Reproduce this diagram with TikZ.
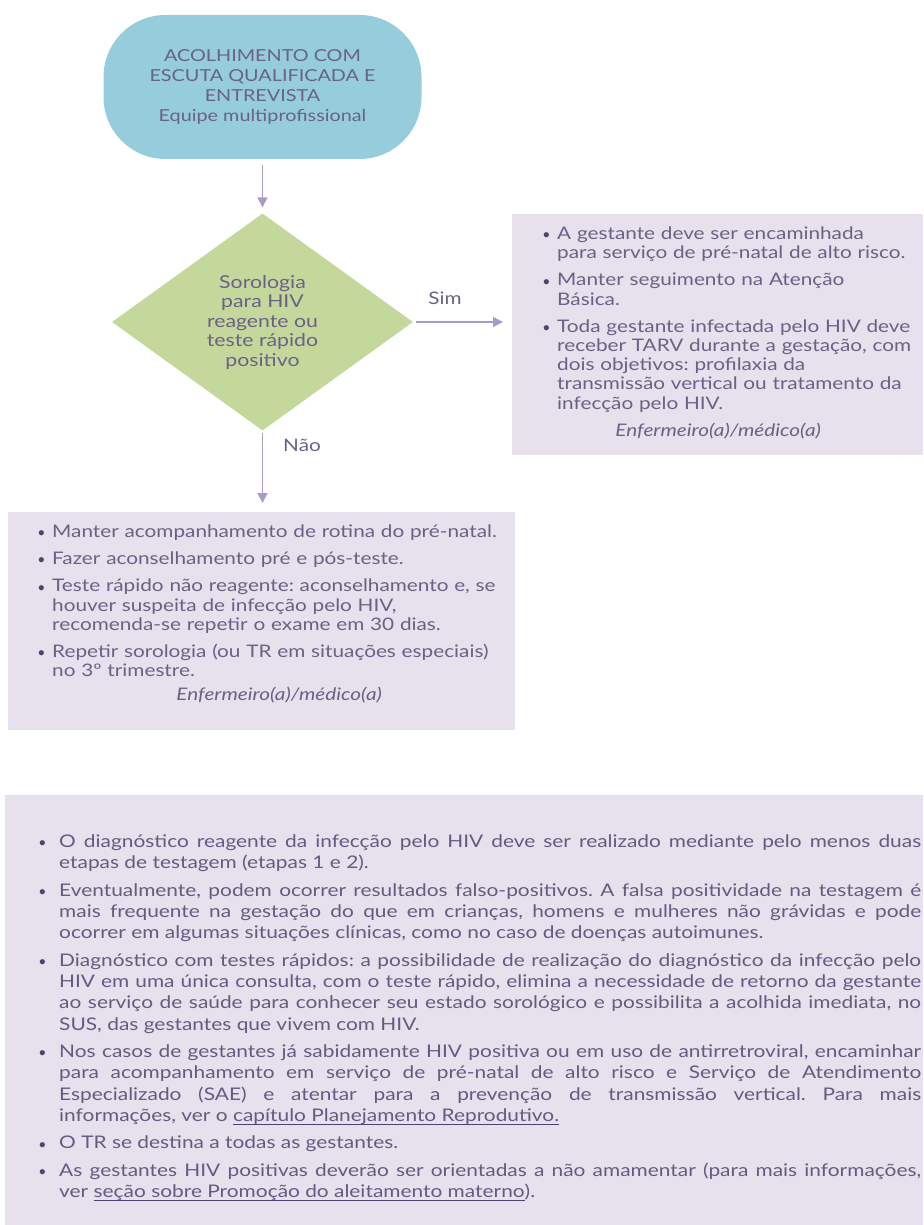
\documentclass[tikz,border=0pt]{standalone}
\usepackage{fontspec}
\setmainfont{Lato}[FakeStretch=1.2]
\newfontfamily\bulfont{Liberation Sans}
\usetikzlibrary{shapes.geometric,arrows.meta}
\definecolor{txt}{HTML}{6B6187}
\definecolor{btxt}{HTML}{655A82}
\definecolor{bulc}{HTML}{4E4270}
\definecolor{bluefill}{HTML}{95CDDC}
\definecolor{greenfill}{HTML}{C5D89C}
\definecolor{panelfill}{HTML}{E6E1EC}
\definecolor{arrowc}{HTML}{A99AC8}
\newcommand\bul[1]{\par\hangindent=#1\relax\hangafter=1\relax\noindent\makebox[#1][l]{\raisebox{-2.2pt}{\textcolor{bulc}{\bulfont\fontsize{19}{19}\selectfont\textbullet}}}}
\newcommand\ulink[1]{\setbox0\hbox{#1}\rlap{\textcolor{bulc}{\rule[-3.5pt]{\wd0}{1.1pt}}}\box0}
\newcommand\listsetup{\setlength{\parskip}{8pt}\setlength{\parindent}{0pt}\hyphenpenalty=10000\relax\tolerance=10000\relax\frenchspacing}
\newcommand\bsetup{\setlength{\parskip}{6.2pt}\setlength{\parindent}{0pt}\hyphenpenalty=10000\relax\tolerance=10000\relax\emergencystretch=20pt\relax\frenchspacing}
\begin{document}
\begin{tikzpicture}[x=1pt,y=-1pt,
  startbox/.style={rectangle, rounded corners=62pt, minimum width=318pt, minimum height=144pt, fill=bluefill, text=txt, align=center, inner sep=0pt, font=\fontsize{16.5}{20}\selectfont},
  decision/.style={diamond, aspect=1.39, minimum width=301pt, minimum height=217pt, fill=greenfill, text=txt, align=center, inner sep=0pt, font=\fontsize{17.7}{19.5}\selectfont},
  panel/.style={rectangle, fill=panelfill, inner sep=0pt, anchor=north west},
  listtext/.style={anchor=north west, inner sep=0pt, text=txt, font=\fontsize{17.3}{19.2}\selectfont},
  btext/.style={anchor=north west, inner sep=0pt, text=btxt, align=justify, font=\fontsize{17.4}{21.3}\selectfont},
  arr/.style={draw=arrowc, line width=1.5pt, -{Triangle[width=10pt,length=10pt]}},
  lbl/.style={text=txt, inner sep=0pt, font=\fontsize{17.25}{19.5}\selectfont}
]
\useasboundingbox (0,0) rectangle (923,1225);

\node[startbox] (start) at (262.5,87) {ACOLHIMENTO COM\\ESCUTA QUALIFICADA E\\ENTREVISTA\\Equipe multiprofissional};

\node[decision] (dec) at (262.5,322) {Sorologia\\para HIV\\reagente ou\\teste rápido\\positivo};

\node[panel, minimum width=411pt, minimum height=241pt] (rbox) at (512,214) {};
\node[panel, minimum width=507pt, minimum height=218pt] (lbox) at (8,512) {};
\node[panel, minimum width=918pt, minimum height=430pt] (bbox) at (5,795) {};

\draw[arr, shorten <=6pt, shorten >=6pt] (start.south) -- (dec.north);
\draw[arr, shorten <=3pt, shorten >=9pt] (dec.east) -- (dec.east -| rbox.west);
\draw[arr, shorten <=2pt, shorten >=9pt] (dec.south) -- (dec.south |- lbox.north);

\node[lbl] (sim) at (445,298) {Sim};
\node[lbl] (nao) at (302,445) {Não};

\node[listtext, text width=375pt] (rtext) at (543,212) {\listsetup
\bul{14pt}A gestante deve ser encaminhada\newline para serviço de pré-natal de alto risco.
\bul{14pt}Manter seguimento na Atenção\newline Básica.
\bul{14pt}Toda gestante infectada pelo HIV deve\newline receber TARV durante a gestação, com\newline dois objetivos: profilaxia da\newline transmissão vertical ou tratamento da\newline infecção pelo HIV.
\par\noindent\makebox[350pt][c]{\itshape Enfermeiro(a)/médico(a)}\par};

\node[listtext, text width=470pt] (ltext) at (38,510) {\listsetup
\bul{14pt}Manter acompanhamento de rotina do pré-natal.
\bul{14pt}Fazer aconselhamento pré e pós-teste.
\bul{14pt}Teste rápido não reagente: aconselhamento e, se\newline houver suspeita de infecção pelo HIV,\newline recomenda-se repetir o exame em 30 dias.
\bul{14pt}Repetir sorologia (ou TR em situações especiais)\newline no 3º trimestre.
\par\vspace{-3pt}\noindent\makebox[482pt][c]{\itshape Enfermeiro(a)/médico(a)}\par};

\node[btext, text width=882pt] (btxt) at (39,819.5) {\bsetup
\bul{20pt}O diagnóstico reagente da infecção pelo HIV deve ser realizado mediante pelo menos duas\linebreak etapas de testagem (etapas 1 e 2).
\bul{20pt}Eventualmente, podem ocorrer resultados falso-positivos. A falsa positividade na testagem é\linebreak mais frequente na gestação do que em crianças, homens e mulheres não grávidas e pode\linebreak ocorrer em algumas situações clínicas, como no caso de doenças autoimunes.
\bul{20pt}Diagnóstico com testes rápidos: a possibilidade de realização do diagnóstico da infecção pelo\linebreak HIV em uma única consulta, com o teste rápido, elimina a necessidade de retorno da gestante\linebreak ao serviço de saúde para conhecer seu estado sorológico e possibilita a acolhida imediata, no\linebreak SUS, das gestantes que vivem com HIV.
\bul{20pt}Nos casos de gestantes já sabidamente HIV positiva ou em uso de antirretroviral, encaminhar\linebreak para acompanhamento em serviço de pré-natal de alto risco e Serviço de Atendimento\linebreak Especializado (SAE) e atentar para a prevenção de transmissão vertical. Para mais\linebreak informações, ver o \ulink{capítulo Planejamento Reprodutivo.}
\bul{20pt}O TR se destina a todas as gestantes.
\bul{20pt}As gestantes HIV positivas deverão ser orientadas a não amamentar (para mais informações,\linebreak ver \ulink{seção sobre Promoção do aleitamento materno}).\par};
\end{tikzpicture}
\end{document}
